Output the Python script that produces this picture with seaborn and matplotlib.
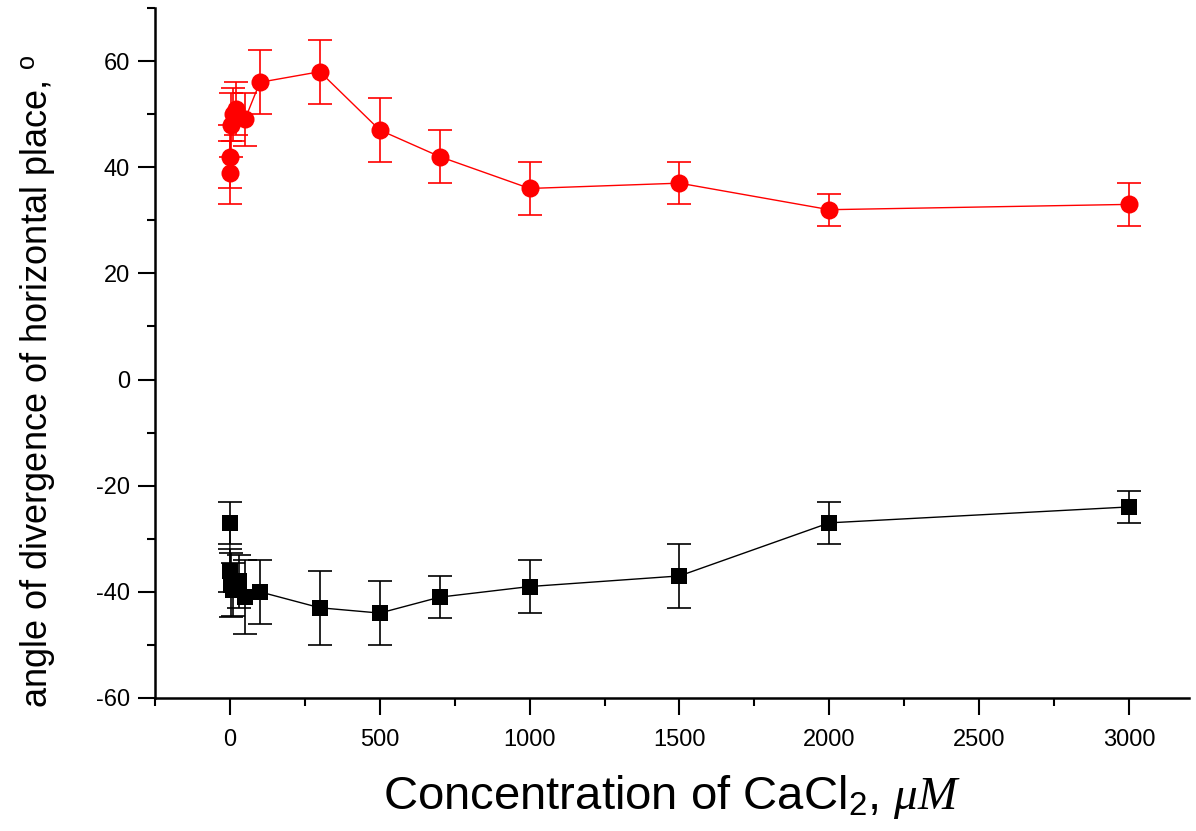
import matplotlib
matplotlib.use("Agg")
import matplotlib.pyplot as plt
from matplotlib.ticker import MultipleLocator
import seaborn as sns
import pandas as pd

conc = [0, 0, 5, 10, 20, 50, 100, 300, 500, 700, 1000, 1500, 2000, 3000]
red_angle = [39, 42, 48, 50, 51, 49, 56, 58, 47, 42, 36, 37, 32, 33]
red_err = [6, 6, 6, 5, 5, 5, 6, 6, 6, 5, 5, 4, 3, 4]

conc_b = [0, 0, 5, 10, 30, 50, 100, 300, 500, 700, 1000, 1500, 2000, 3000]
black_angle = [-27, -36, -38.7, -39.6, -38, -41, -40, -43, -44, -41, -39, -37, -27, -24]
black_err = [4, 4, 6, 5, 5, 7, 6, 7, 6, 4, 5, 6, 4, 3]

x_ticks = [0, 500, 1000, 1500, 2000, 2500, 3000]
y_ticks = [-60, -40, -20, 0, 20, 40, 60]

sns.set_style("ticks")
plt.rcParams['font.family'] = ['Liberation Sans', 'DejaVu Sans']
plt.rcParams['mathtext.fontset'] = 'custom'
plt.rcParams['mathtext.rm'] = 'Liberation Sans'
plt.rcParams['mathtext.it'] = 'Liberation Serif:italic'
plt.rcParams['axes.unicode_minus'] = False
plt.rcParams['text.color'] = 'black'
plt.rcParams['axes.labelcolor'] = 'black'
plt.rcParams['xtick.color'] = 'black'
plt.rcParams['ytick.color'] = 'black'

fig = plt.figure(figsize=(11.96, 8.31), dpi=100)
ax = fig.add_axes([155 / 1196, 1 - 698 / 831, 1034 / 1196, 690 / 831])

df_r = pd.DataFrame({"conc": conc, "angle": red_angle})
df_b = pd.DataFrame({"conc": conc_b, "angle": black_angle})

ax.errorbar(conc, red_angle, yerr=red_err, fmt='none', ecolor='red',
            elinewidth=1.2, capsize=8.5, capthick=1.2, zorder=2)
ax.errorbar(conc_b, black_angle, yerr=black_err, fmt='none', ecolor='black',
            elinewidth=1.2, capsize=8.5, capthick=1.2, zorder=2)

sns.lineplot(data=df_r, x="conc", y="angle", sort=False, estimator=None,
             color='red', lw=1.0, marker='o', markersize=13,
             markeredgewidth=0, ax=ax, zorder=3)
sns.lineplot(data=df_b, x="conc", y="angle", sort=False, estimator=None,
             color='black', lw=1.0, marker='s', markersize=11,
             markeredgewidth=0, ax=ax, zorder=3)

ax.set_xlim(-250, 3200)
ax.set_ylim(-60, 70)
ax.set_xticks(x_ticks)
ax.set_yticks(y_ticks)
ax.xaxis.set_minor_locator(MultipleLocator(250))
ax.yaxis.set_minor_locator(MultipleLocator(10))
ax.tick_params(which='major', direction='out', length=12, width=1.5,
               labelsize=17, pad=6, colors='black')
ax.tick_params(which='minor', direction='out', length=6, width=1.5, colors='black')
ax.tick_params(axis='x', which='major', labelsize=17, pad=10)

sns.despine(ax=ax)
for s in ['left', 'bottom']:
    ax.spines[s].set_linewidth(1.8)
    ax.spines[s].set_color('black')

ax.set_xlabel(r"Concentration of CaCl$_{2}$, $\mu M$", fontsize=34, labelpad=16)
ax.set_ylabel(r"angle of divergence of horizontal place, $^{\mathrm{o}}$", fontsize=26)
ax.yaxis.set_label_coords(-0.095, 0.46)

fig.savefig("out.png", dpi=100)
